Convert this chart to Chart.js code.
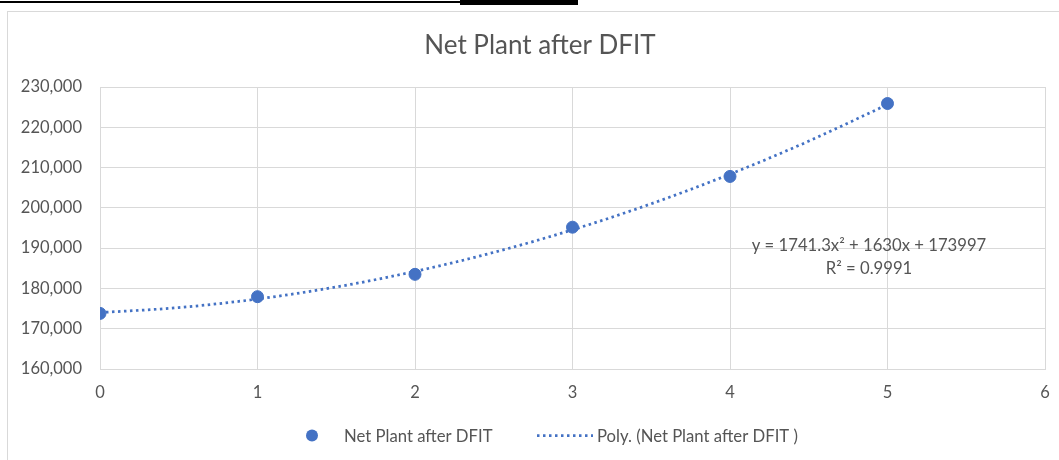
<!DOCTYPE html>
<html>
<head>
<meta charset="utf-8">
<script src="https://cdn.jsdelivr.net/npm/chart.js@4"></script>
<style>
  html, body { margin: 0; padding: 0; background: #fff; }
  #wrap { position: relative; width: 1059px; height: 460px; overflow: hidden; }
  #frame { position: absolute; left: 7px; top: 11px; width: 1060px; height: 460px;
           border-left: 1px solid #d9d9d9; border-top: 1px solid #d9d9d9; box-sizing: border-box; }
  #topline { position: absolute; left: 0; top: 1px; width: 578px; height: 2px; background: #000; }
  #topblock { position: absolute; left: 460px; top: 0; width: 118px; height: 5px; background: #000; }
  canvas { position: absolute; left: 0; top: 0; }
</style>
</head>
<body>
<div id="wrap">
  <div id="topline"></div>
  <div id="topblock"></div>
  <div id="frame"></div>
  <canvas id="c" width="1059" height="460"></canvas>
</div>
<script>
// ---- data ----
const chartTitle = "Net Plant after DFIT";
const seriesName = "Net Plant after DFIT";
const trendName = "Poly. (Net Plant after DFIT )";
const xValues = [0, 1, 2, 3, 4, 5];
const netPlant = [173800, 177950, 183500, 195200, 207800, 225900];
const trendX = [0, 0.5, 1, 1.5, 2, 2.5, 3, 3.5, 4, 4.5, 5];
const trendY = [174000, 175250, 177370, 180360, 184220, 188950, 194550, 201020, 208360, 216570, 225650];
const equationLines = ["y = 1741.3x\u00B2 + 1630x + 173997", "R\u00B2 = 0.9991"];
const yMin = 160000, yMax = 230000, yStep = 10000;
const xMin = 0, xMax = 6, xStep = 1;

const BLUE = "#4472C4";
const TEXT = "#555555";
const GRID = "#d9d9d9";
const FONT = "Lato, 'Open Sans', sans-serif";

const overlay = {
  id: "overlay",
  afterDraw(chart) {
    const ctx = chart.ctx;
    ctx.save();
    ctx.fillStyle = TEXT;
    // title
    ctx.font = "26px " + FONT;
    ctx.textAlign = "center";
    ctx.textBaseline = "alphabetic";
    ctx.fillText(chartTitle, 540, 54);
    // equation
    ctx.font = "16.7px " + FONT;
    ctx.fillText(equationLines[0], 869, 251);
    ctx.fillText(equationLines[1], 869, 274);
    // legend
    ctx.textAlign = "left";
    ctx.font = "16.7px " + FONT;
    ctx.beginPath();
    ctx.arc(312, 435.5, 6, 0, Math.PI * 2);
    ctx.fillStyle = BLUE;
    ctx.fill();
    ctx.fillStyle = TEXT;
    ctx.fillText(seriesName, 344, 442);
    ctx.strokeStyle = BLUE;
    ctx.lineWidth = 2.75;
    ctx.setLineDash([2.5, 3.5]);
    ctx.beginPath();
    ctx.moveTo(537, 435.5);
    ctx.lineTo(593, 435.5);
    ctx.stroke();
    ctx.setLineDash([]);
    ctx.fillText(trendName, 597, 442);
    ctx.restore();
  }
};

new Chart(document.getElementById("c"), {
  type: "scatter",
  data: {
    datasets: [
      {
        label: seriesName,
        data: xValues.map((x, i) => ({ x: x, y: netPlant[i] })),
        backgroundColor: BLUE,
        borderColor: BLUE,
        pointRadius: 6,
        pointHoverRadius: 6,
        order: 1
      },
      {
        label: trendName,
        data: trendX.map((x, i) => ({ x: x, y: trendY[i] })),
        showLine: true,
        borderColor: BLUE,
        borderWidth: 2.75,
        borderDash: [2.5, 3.5],
        cubicInterpolationMode: "monotone",
        pointRadius: 0,
        pointHoverRadius: 0,
        fill: false,
        order: 2
      }
    ]
  },
  options: {
    responsive: false,
    animation: false,
    events: [],
    layout: { padding: { left: 0, top: 87, right: 14, bottom: 51 } },
    plugins: {
      legend: { display: false },
      title: { display: false },
      tooltip: { enabled: false }
    },
    scales: {
      x: {
        type: "linear",
        min: xMin, max: xMax,
        afterFit(s) { s.height = 40; s.paddingRight = 0; },
        ticks: { stepSize: xStep, padding: 14, color: TEXT, font: { family: FONT, size: 16.5 } },
        grid: { color: GRID, drawTicks: false, lineWidth: 1 },
        border: { color: GRID }
      },
      y: {
        min: yMin, max: yMax,
        afterFit(s) { s.width = 100; },
        ticks: {
          stepSize: yStep, padding: 18, color: TEXT, font: { family: FONT, size: 16.5 },
          callback: v => v.toLocaleString("en-US")
        },
        grid: { color: GRID, drawTicks: false, lineWidth: 1 },
        border: { color: GRID }
      }
    }
  },
  plugins: [overlay]
});
</script>
</body>
</html>
